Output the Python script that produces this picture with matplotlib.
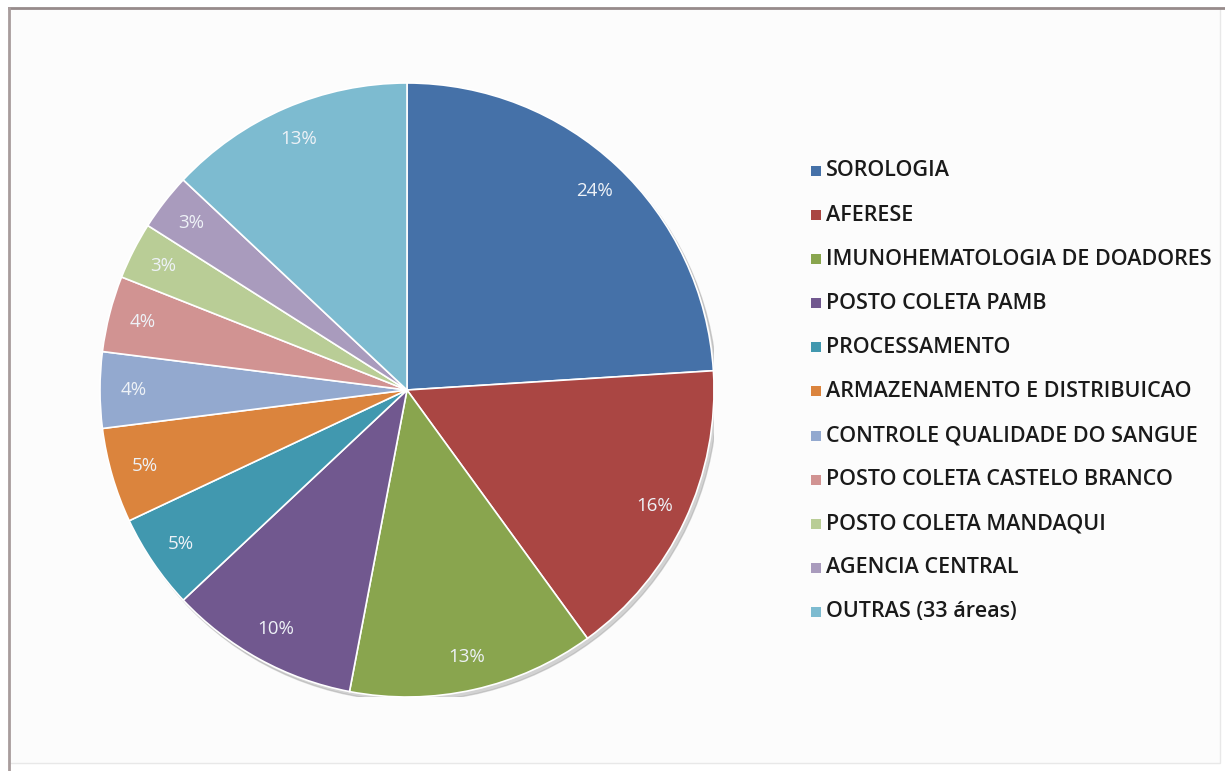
import matplotlib
matplotlib.use("Agg")
import matplotlib.pyplot as plt
from matplotlib.patches import Circle, Rectangle
from matplotlib.lines import Line2D

categories = ["SOROLOGIA", "AFERESE", "IMUNOHEMATOLOGIA DE DOADORES", "POSTO COLETA PAMB",
              "PROCESSAMENTO", "ARMAZENAMENTO E DISTRIBUICAO", "CONTROLE QUALIDADE DO SANGUE",
              "POSTO COLETA CASTELO BRANCO", "POSTO COLETA MANDAQUI", "AGENCIA CENTRAL",
              "OUTRAS (33 áreas)"]
values = [24, 16, 13, 10, 5, 5, 4, 4, 3, 3, 13]
colors = ["#4571A8", "#AA4643", "#89A54E", "#71588F", "#4198AF", "#DB843D",
          "#93A9CF", "#D19392", "#B9CD96", "#A99BBD", "#7DBBD0"]

plt.rcParams['font.family'] = ['Open Sans', 'DejaVu Sans']
fig = plt.figure(figsize=(12.25, 7.71), dpi=100)
fig.patch.set_facecolor('white')
fig.add_artist(Rectangle((9/1225, 8/771), 1211/1225, 755/771, transform=fig.transFigure,
                         fill=True, facecolor='#FCFCFC', edgecolor='#E8E8E8', linewidth=1.0,
                         zorder=-5))
# darker top and left border lines
fig.add_artist(Line2D([9/1225, 1225/1225], [763/771, 763/771], transform=fig.transFigure,
                      color='#978B8B', linewidth=2.0, zorder=-4))
fig.add_artist(Line2D([9/1225, 9/1225], [0, 763/771], transform=fig.transFigure,
                      color='#A89C9C', linewidth=2.0, zorder=-4))

ax = fig.add_axes([100/1225, 74/771, 614/1225, 614/771])
ax.set_xlim(-1, 1); ax.set_ylim(-1, 1)
ax.set_aspect('equal'); ax.axis('off')
ax.add_patch(Circle((0.01, -0.013), 1.0, color='#A0A0A0', alpha=0.45, zorder=0))
wedges, texts, autotexts = ax.pie(values, colors=colors, startangle=90, counterclock=False,
                                  autopct='%d%%', pctdistance=0.89, radius=1.0,
                                  wedgeprops=dict(edgecolor='white', linewidth=1.2),
                                  textprops=dict(color='#EEF2F7', fontsize=13.5))
ax.set_xlim(-1, 1); ax.set_ylim(-1, 1)

y0 = 771 - 171
for i, (c, col) in enumerate(zip(categories, colors)):
    y = (y0 - i * 44.1) / 771
    fig.add_artist(Rectangle((811/1225, y - 5/771), 10/1225, 10/771, transform=fig.transFigure,
                             facecolor=col, edgecolor='none'))
    fig.text(826/1225, y, c, fontsize=15.5, fontweight='semibold', color='#1A1A1A',
             va='center', ha='left')

fig.savefig('out.png', dpi=100)
